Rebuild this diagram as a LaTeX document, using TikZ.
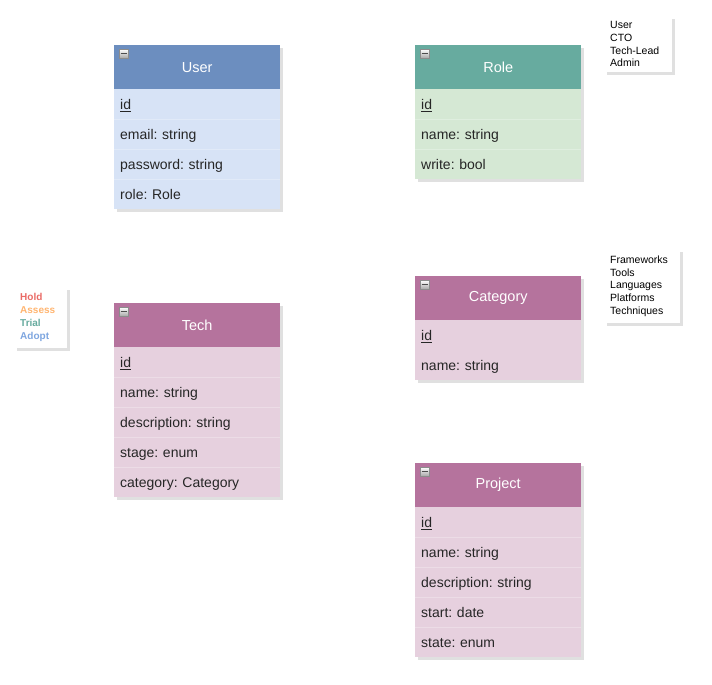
\documentclass[tikz,border=0pt]{standalone}
\usepackage{fontspec}
\setmainfont{Liberation Sans}
\usetikzlibrary{positioning}
\definecolor{blueHead}{HTML}{6C8EBF}
\definecolor{blueBody}{HTML}{D7E3F6}
\definecolor{greenHead}{HTML}{67AB9F}
\definecolor{greenBody}{HTML}{D5E8D4}
\definecolor{pinkHead}{HTML}{B5739D}
\definecolor{pinkBody}{HTML}{E6D0DE}
\definecolor{holdCol}{HTML}{EA6B66}
\definecolor{assessCol}{HTML}{FFB570}
\definecolor{trialCol}{HTML}{67AB9F}
\definecolor{adoptCol}{HTML}{7EA6E0}
\frenchspacing
\begin{document}
\begin{tikzpicture}[%
        x=1pt,y=-1pt,%
        header/.style={%
            anchor=north west,%
            minimum width=166pt,%
            minimum height=44pt,%
            inner sep=0pt,%
            text=white,%
            font=\fontsize{14.5}{16}\selectfont%
        },%
        field/.style={%
            anchor=north west,%
            minimum width=166pt,%
            minimum height=30pt,%
            text width=154pt,%
            text height=12pt,%
            text depth=2pt,%
            inner xsep=6pt,%
            inner ysep=0pt,%
            align=left,%
            text=black!85,%
            font=\fontsize{14}{16}\selectfont%
        },%
        fold/.style={%
            anchor=north west,%
            minimum size=9pt,%
            inner sep=0pt,%
            draw=black!45,%
            top color=white,%
            bottom color=black!35%
        },%
        note/.style={%
            anchor=north west,%
            inner xsep=6pt,%
            inner ysep=0pt,%
            align=left,%
            fill=white,%
            font=\fontsize{10.5}{12.7}\selectfont%
        },%
        shade/.style={%
            fill=black!40,%
            opacity=.3%
        }%
    ]
    \useasboundingbox (0,0) rectangle (712,685);

    % shadows
    \fill [shade] (117,48) rectangle (283,212);
    \fill [shade] (418,48) rectangle (584,182);
    \fill [shade] (117,306) rectangle (283,500);
    \fill [shade] (418,279) rectangle (584,383);
    \fill [shade] (418,466) rectangle (584,660);
    \fill [shade] (17,290) rectangle (70,351);
    \fill [shade] (607,19) rectangle (675,75);
    \fill [shade] (607,252) rectangle (683,326);

    % User
    \node (user) at (114,45) [header,fill=blueHead]{User};
    \foreach \txt [count=\i from 0] in {\underline{id},email: string,password: string,role: Role}
        \node (user-\i) at (114,89+30*\i) [field,fill=blueBody]{\txt};
    \foreach \i in {1,2,3}
        \draw [blueBody!75!white] (user-\i.north west) -- (user-\i.north east);
    \node (user-fold) at (119,49) [fold]{};
    \draw [black!70,line width=1.4pt] ([xshift=1.5pt]user-fold.west) -- ([xshift=-1.5pt]user-fold.east);

    % Role
    \node (role) at (415,45) [header,fill=greenHead]{Role};
    \foreach \txt [count=\i from 0] in {\underline{id},name: string,write: bool}
        \node (role-\i) at (415,89+30*\i) [field,fill=greenBody]{\txt};
    \foreach \i in {1,2}
        \draw [greenBody!75!white] (role-\i.north west) -- (role-\i.north east);
    \node (role-fold) at (420,49) [fold]{};
    \draw [black!70,line width=1.4pt] ([xshift=1.5pt]role-fold.west) -- ([xshift=-1.5pt]role-fold.east);

    % Tech
    \node (tech) at (114,303) [header,fill=pinkHead]{Tech};
    \foreach \txt [count=\i from 0] in {\underline{id},name: string,description: string,stage: enum,category: Category}
        \node (tech-\i) at (114,347+30*\i) [field,fill=pinkBody]{\txt};
    \foreach \i in {1,...,4}
        \draw [pinkBody!75!white] (tech-\i.north west) -- (tech-\i.north east);
    \node (tech-fold) at (119,307) [fold]{};
    \draw [black!70,line width=1.4pt] ([xshift=1.5pt]tech-fold.west) -- ([xshift=-1.5pt]tech-fold.east);

    % Category
    \node (category) at (415,276) [header,fill=pinkHead]{Category};
    \foreach \txt [count=\i from 0] in {\underline{id},name: string}
        \node (category-\i) at (415,320+30*\i) [field,fill=pinkBody]{\txt};
    \node (category-fold) at (420,280) [fold]{};
    \draw [black!70,line width=1.4pt] ([xshift=1.5pt]category-fold.west) -- ([xshift=-1.5pt]category-fold.east);

    % Project
    \node (project) at (415,463) [header,fill=pinkHead]{Project};
    \foreach \txt [count=\i from 0] in {\underline{id},name: string,description: string,start: date,state: enum}
        \node (project-\i) at (415,507+30*\i) [field,fill=pinkBody]{\txt};
    \foreach \i in {1,...,4}
        \draw [pinkBody!75!white] (project-\i.north west) -- (project-\i.north east);
    \node (project-fold) at (420,467) [fold]{};
    \draw [black!70,line width=1.4pt] ([xshift=1.5pt]project-fold.west) -- ([xshift=-1.5pt]project-fold.east);

    % notes
    \node (stages) at (14,287) [note,text width=41pt,minimum height=61pt,font=\fontsize{10}{13}\bfseries]{%
        \textcolor{holdCol}{Hold}\\\textcolor{assessCol}{Assess}\\\textcolor{trialCol}{Trial}\\\textcolor{adoptCol}{Adopt}};
    \node (roles) at (604,16) [note,text width=56pt,minimum height=56pt]{User\\CTO\\Tech-Lead\\Admin};
    \node (categories) at (604,249) [note,text width=64pt,minimum height=74pt]{Frameworks\\Tools\\Languages\\Platforms\\Techniques};
\end{tikzpicture}
\end{document}
